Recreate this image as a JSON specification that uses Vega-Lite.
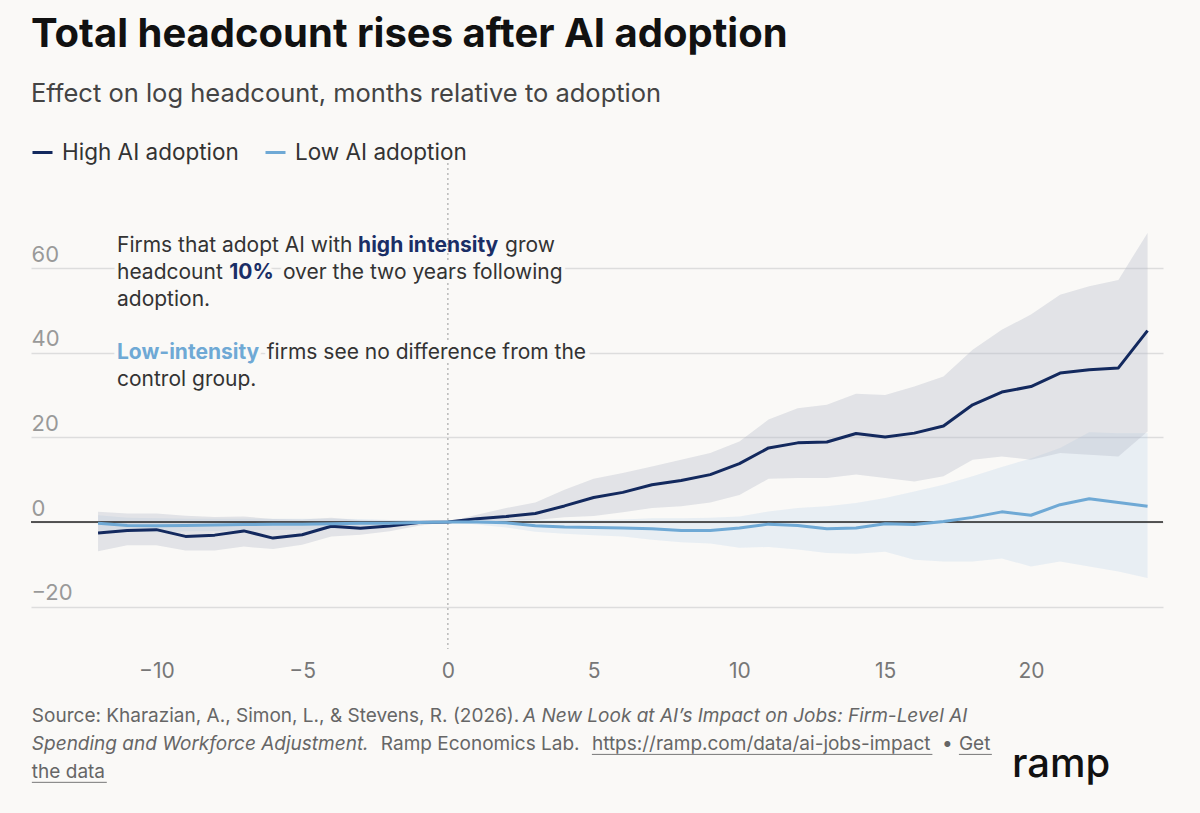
{
  "$schema": "https://vega.github.io/schema/vega-lite/v6.json",
  "width": 1132,
  "height": 491,
  "autosize": {"type": "none"},
  "padding": {"left": 31, "top": 158, "right": 37, "bottom": 164},
  "background": "#FAF9F7",
  "title": {
    "text": "Total headcount rises after AI adoption",
    "subtitle": "Effect on log headcount, months relative to adoption",
    "anchor": "start",
    "frame": "group",
    "font": "Inter",
    "fontSize": 40,
    "fontWeight": 700,
    "color": "#111111",
    "subtitleFont": "Inter",
    "subtitleFontSize": 25.5,
    "subtitleColor": "#444444",
    "subtitlePadding": 27,
    "offset": 34
  },
  "config": {
    "view": {"stroke": null},
    "font": "Inter",
    "axisX": {"domain": false, "ticks": false, "tickSize": 0, "grid": false, "labelFontSize": 21, "labelColor": "#777777", "labelPadding": 11, "labelFont": "Inter"},
    "axisY": {"domain": false, "ticks": false, "tickSize": 0, "grid": true, "gridColor": "#DDDDDD", "gridWidth": 1.5, "labelAlign": "left", "labelPadding": 0, "labelBaseline": "alphabetic", "labelOffset": -7, "labelFontSize": 22, "labelColor": "#999999", "labelFont": "Inter"},
    "legend": {"orient": "none", "legendX": 0, "legendY": -17, "direction": "horizontal", "title": null, "symbolType": "stroke", "symbolSize": 400, "symbolStrokeWidth": 3, "labelFontSize": 22.5, "labelLimit": 400, "labelColor": "#333333", "labelFont": "Inter", "columnPadding": 20, "labelOffset": 8, "padding": 0}
  },
  "datasets": {
    "est": [
      {"month": -12, "series": "High AI adoption", "est": -2.6, "lo": -6.9, "hi": 2.4},
      {"month": -11, "series": "High AI adoption", "est": -2.0, "lo": -5.5, "hi": 2.0},
      {"month": -10, "series": "High AI adoption", "est": -1.8, "lo": -5.5, "hi": 2.0},
      {"month": -9, "series": "High AI adoption", "est": -3.4, "lo": -6.7, "hi": 1.5},
      {"month": -8, "series": "High AI adoption", "est": -3.1, "lo": -6.7, "hi": 1.2},
      {"month": -7, "series": "High AI adoption", "est": -2.1, "lo": -5.8, "hi": 1.3},
      {"month": -6, "series": "High AI adoption", "est": -3.8, "lo": -6.4, "hi": 0.7},
      {"month": -5, "series": "High AI adoption", "est": -3.0, "lo": -5.4, "hi": 0.6},
      {"month": -4, "series": "High AI adoption", "est": -1.0, "lo": -3.4, "hi": 1.0},
      {"month": -3, "series": "High AI adoption", "est": -1.5, "lo": -3.0, "hi": 0.4},
      {"month": -2, "series": "High AI adoption", "est": -0.95, "lo": -2.2, "hi": 0.3},
      {"month": -1, "series": "High AI adoption", "est": -0.1, "lo": -0.9, "hi": 0.5},
      {"month": 0, "series": "High AI adoption", "est": 0, "lo": 0, "hi": 0},
      {"month": 1, "series": "High AI adoption", "est": 0.8, "lo": 0.0, "hi": 1.7},
      {"month": 2, "series": "High AI adoption", "est": 1.3, "lo": 0.3, "hi": 3.3},
      {"month": 3, "series": "High AI adoption", "est": 2.0, "lo": 0.5, "hi": 4.6},
      {"month": 4, "series": "High AI adoption", "est": 3.8, "lo": 1.1, "hi": 7.6},
      {"month": 5, "series": "High AI adoption", "est": 5.8, "lo": 1.4, "hi": 10.2},
      {"month": 6, "series": "High AI adoption", "est": 7.0, "lo": 2.3, "hi": 11.6},
      {"month": 7, "series": "High AI adoption", "est": 8.8, "lo": 3.3, "hi": 13.1},
      {"month": 8, "series": "High AI adoption", "est": 9.8, "lo": 3.7, "hi": 14.7},
      {"month": 9, "series": "High AI adoption", "est": 11.2, "lo": 4.6, "hi": 16.3},
      {"month": 10, "series": "High AI adoption", "est": 13.8, "lo": 6.4, "hi": 19.0},
      {"month": 11, "series": "High AI adoption", "est": 17.5, "lo": 10.2, "hi": 24.2},
      {"month": 12, "series": "High AI adoption", "est": 18.7, "lo": 10.4, "hi": 26.9},
      {"month": 13, "series": "High AI adoption", "est": 18.9, "lo": 10.4, "hi": 27.7},
      {"month": 14, "series": "High AI adoption", "est": 20.9, "lo": 11.2, "hi": 30.3},
      {"month": 15, "series": "High AI adoption", "est": 20.1, "lo": 10.4, "hi": 30.0},
      {"month": 16, "series": "High AI adoption", "est": 21.0, "lo": 9.6, "hi": 32.0},
      {"month": 17, "series": "High AI adoption", "est": 22.7, "lo": 10.8, "hi": 34.4},
      {"month": 18, "series": "High AI adoption", "est": 27.7, "lo": 14.7, "hi": 40.7},
      {"month": 19, "series": "High AI adoption", "est": 30.7, "lo": 15.5, "hi": 45.4},
      {"month": 20, "series": "High AI adoption", "est": 32.0, "lo": 14.7, "hi": 49.0},
      {"month": 21, "series": "High AI adoption", "est": 35.2, "lo": 16.3, "hi": 53.7},
      {"month": 22, "series": "High AI adoption", "est": 36.0, "lo": 15.9, "hi": 55.7},
      {"month": 23, "series": "High AI adoption", "est": 36.4, "lo": 15.5, "hi": 57.2},
      {"month": 24, "series": "High AI adoption", "est": 45.2, "lo": 21.4, "hi": 68.3},
      {"month": -12, "series": "Low AI adoption", "est": -0.3, "lo": -2.0, "hi": 1.6},
      {"month": -11, "series": "Low AI adoption", "est": -0.8, "lo": -2.3, "hi": 1.0},
      {"month": -10, "series": "Low AI adoption", "est": -0.9, "lo": -2.4, "hi": 0.9},
      {"month": -9, "series": "Low AI adoption", "est": -0.8, "lo": -2.2, "hi": 0.8},
      {"month": -8, "series": "Low AI adoption", "est": -0.7, "lo": -2.1, "hi": 0.8},
      {"month": -7, "series": "Low AI adoption", "est": -0.6, "lo": -2.0, "hi": 0.8},
      {"month": -6, "series": "Low AI adoption", "est": -0.5, "lo": -1.9, "hi": 0.8},
      {"month": -5, "series": "Low AI adoption", "est": -0.5, "lo": -1.8, "hi": 0.8},
      {"month": -4, "series": "Low AI adoption", "est": -0.4, "lo": -1.6, "hi": 0.8},
      {"month": -3, "series": "Low AI adoption", "est": -0.3, "lo": -1.4, "hi": 0.7},
      {"month": -2, "series": "Low AI adoption", "est": -0.3, "lo": -1.1, "hi": 0.5},
      {"month": -1, "series": "Low AI adoption", "est": -0.1, "lo": -0.6, "hi": 0.4},
      {"month": 0, "series": "Low AI adoption", "est": 0, "lo": 0, "hi": 0},
      {"month": 1, "series": "Low AI adoption", "est": 0.0, "lo": -0.6, "hi": 0.6},
      {"month": 2, "series": "Low AI adoption", "est": -0.2, "lo": -1.3, "hi": 0.8},
      {"month": 3, "series": "Low AI adoption", "est": -0.9, "lo": -2.3, "hi": 0.6},
      {"month": 4, "series": "Low AI adoption", "est": -1.2, "lo": -2.8, "hi": 0.5},
      {"month": 5, "series": "Low AI adoption", "est": -1.3, "lo": -3.1, "hi": 0.5},
      {"month": 6, "series": "Low AI adoption", "est": -1.4, "lo": -3.4, "hi": 0.6},
      {"month": 7, "series": "Low AI adoption", "est": -1.6, "lo": -4.2, "hi": 0.9},
      {"month": 8, "series": "Low AI adoption", "est": -2.0, "lo": -4.8, "hi": 0.9},
      {"month": 9, "series": "Low AI adoption", "est": -2.0, "lo": -5.1, "hi": 1.0},
      {"month": 10, "series": "Low AI adoption", "est": -1.4, "lo": -6.1, "hi": 1.3},
      {"month": 11, "series": "Low AI adoption", "est": -0.5, "lo": -5.9, "hi": 2.5},
      {"month": 12, "series": "Low AI adoption", "est": -0.8, "lo": -6.5, "hi": 3.3},
      {"month": 13, "series": "Low AI adoption", "est": -1.6, "lo": -7.3, "hi": 3.7},
      {"month": 14, "series": "Low AI adoption", "est": -1.4, "lo": -7.5, "hi": 4.5},
      {"month": 15, "series": "Low AI adoption", "est": -0.4, "lo": -7.0, "hi": 5.7},
      {"month": 16, "series": "Low AI adoption", "est": -0.6, "lo": -8.9, "hi": 7.2},
      {"month": 17, "series": "Low AI adoption", "est": 0.1, "lo": -9.3, "hi": 8.8},
      {"month": 18, "series": "Low AI adoption", "est": 1.1, "lo": -9.3, "hi": 10.8},
      {"month": 19, "series": "Low AI adoption", "est": 2.4, "lo": -8.6, "hi": 13.0},
      {"month": 20, "series": "Low AI adoption", "est": 1.6, "lo": -10.5, "hi": 15.0},
      {"month": 21, "series": "Low AI adoption", "est": 4.1, "lo": -9.3, "hi": 17.5},
      {"month": 22, "series": "Low AI adoption", "est": 5.5, "lo": -10.5, "hi": 21.2},
      {"month": 23, "series": "Low AI adoption", "est": 4.6, "lo": -11.7, "hi": 21.0},
      {"month": 24, "series": "Low AI adoption", "est": 3.7, "lo": -13.2, "hi": 21.0}
    ]
  },
  "layer": [
    {
      "data": {"name": "est"},
      "transform": [{"filter": "datum.series === 'Low AI adoption'"}],
      "mark": {"type": "area", "color": "#A9C8E8", "opacity": 0.22},
      "encoding": {
        "x": {"field": "month", "type": "quantitative", "title": null, "scale": {"domain": [-14.3, 24.53], "nice": false, "zero": false}, "axis": {"values": [-10, -5, 0, 5, 10, 15, 20]}},
        "y": {"field": "lo", "type": "quantitative", "title": null, "scale": {"domain": [-30, 86], "nice": false, "zero": false}, "axis": {"values": [-20, 0, 20, 40, 60]}},
        "y2": {"field": "hi"}
      }
    },
    {
      "data": {"name": "est"},
      "transform": [{"filter": "datum.series === 'High AI adoption'"}],
      "mark": {"type": "area", "color": "#B5B9C8", "opacity": 0.35},
      "encoding": {
        "x": {"field": "month", "type": "quantitative", "title": null},
        "y": {"field": "lo", "type": "quantitative", "title": null},
        "y2": {"field": "hi"}
      }
    },
    {
      "data": {"values": [{}]},
      "mark": {"type": "rule", "color": "#222222", "strokeWidth": 1.5},
      "encoding": {"y": {"datum": 0}}
    },
    {
      "data": {"values": [{}]},
      "mark": {"type": "rule", "color": "#AAAAAA", "strokeWidth": 1.2, "strokeDash": [2, 3]},
      "encoding": {"x": {"datum": 0}}
    },
    {
      "data": {"name": "est"},
      "mark": {"type": "line", "strokeWidth": 3, "strokeJoin": "round"},
      "encoding": {
        "x": {"field": "month", "type": "quantitative", "title": null},
        "y": {"field": "est", "type": "quantitative", "title": null},
        "color": {"field": "series", "type": "nominal", "scale": {"domain": ["High AI adoption", "Low AI adoption"], "range": ["#13295E", "#6FA9D5"]}, "legend": {}}
      }
    },
    {"data": {"values": [{}]}, "mark": {"type": "text", "align": "left", "baseline": "middle", "fontSize": 21, "font": "Inter", "color": "#FAF9F7", "stroke": "#FAF9F7", "strokeWidth": 8}, "encoding": {"x": {"datum": -11.35}, "y": {"datum": 58.76}, "text": {"value": "headcount"}}},
    {"data": {"values": [{}]}, "mark": {"type": "text", "align": "left", "baseline": "middle", "fontSize": 21, "font": "Inter", "fontWeight": 700, "color": "#FAF9F7", "stroke": "#FAF9F7", "strokeWidth": 8}, "encoding": {"x": {"datum": -7.5}, "y": {"datum": 58.76}, "text": {"value": "10%"}}},
    {"data": {"values": [{}]}, "mark": {"type": "text", "align": "left", "baseline": "middle", "fontSize": 21, "font": "Inter", "color": "#FAF9F7", "stroke": "#FAF9F7", "strokeWidth": 8}, "encoding": {"x": {"datum": -5.66}, "y": {"datum": 58.76}, "text": {"value": "over the two years following"}}},
    {"data": {"values": [{}]}, "mark": {"type": "text", "align": "left", "baseline": "middle", "fontSize": 21, "font": "Inter", "fontWeight": 700, "color": "#FAF9F7", "stroke": "#FAF9F7", "strokeWidth": 8}, "encoding": {"x": {"datum": -11.35}, "y": {"datum": 39.86}, "text": {"value": "Low-intensity"}}},
    {"data": {"values": [{}]}, "mark": {"type": "text", "align": "left", "baseline": "middle", "fontSize": 21, "font": "Inter", "color": "#FAF9F7", "stroke": "#FAF9F7", "strokeWidth": 8}, "encoding": {"x": {"datum": -6.21}, "y": {"datum": 39.86}, "text": {"value": "firms see no difference from the"}}},
    {"data": {"values": [{}]}, "mark": {"type": "text", "align": "left", "baseline": "middle", "fontSize": 21, "font": "Inter", "color": "#333333"}, "encoding": {"x": {"datum": -11.35}, "y": {"datum": 65.2}, "text": {"value": "Firms that adopt AI with"}}},
    {"data": {"values": [{}]}, "mark": {"type": "text", "align": "left", "baseline": "middle", "fontSize": 21, "font": "Inter", "fontWeight": 700, "color": "#1A2E66"}, "encoding": {"x": {"datum": -3.08}, "y": {"datum": 65.2}, "text": {"value": "high intensity"}}},
    {"data": {"values": [{}]}, "mark": {"type": "text", "align": "left", "baseline": "middle", "fontSize": 21, "font": "Inter", "color": "#333333"}, "encoding": {"x": {"datum": 1.96}, "y": {"datum": 65.2}, "text": {"value": "grow"}}},
    {"data": {"values": [{}]}, "mark": {"type": "text", "align": "left", "baseline": "middle", "fontSize": 21, "font": "Inter", "color": "#333333"}, "encoding": {"x": {"datum": -11.35}, "y": {"datum": 58.76}, "text": {"value": "headcount"}}},
    {"data": {"values": [{}]}, "mark": {"type": "text", "align": "left", "baseline": "middle", "fontSize": 21, "font": "Inter", "fontWeight": 700, "color": "#1A2E66"}, "encoding": {"x": {"datum": -7.5}, "y": {"datum": 58.76}, "text": {"value": "10%"}}},
    {"data": {"values": [{}]}, "mark": {"type": "text", "align": "left", "baseline": "middle", "fontSize": 21, "font": "Inter", "color": "#333333"}, "encoding": {"x": {"datum": -5.66}, "y": {"datum": 58.76}, "text": {"value": "over the two years following"}}},
    {"data": {"values": [{}]}, "mark": {"type": "text", "align": "left", "baseline": "middle", "fontSize": 21, "font": "Inter", "color": "#333333"}, "encoding": {"x": {"datum": -11.35}, "y": {"datum": 52.45}, "text": {"value": "adoption."}}},
    {"data": {"values": [{}]}, "mark": {"type": "text", "align": "left", "baseline": "middle", "fontSize": 21, "font": "Inter", "fontWeight": 700, "color": "#6FA9D5"}, "encoding": {"x": {"datum": -11.35}, "y": {"datum": 39.86}, "text": {"value": "Low-intensity"}}},
    {"data": {"values": [{}]}, "mark": {"type": "text", "align": "left", "baseline": "middle", "fontSize": 21, "font": "Inter", "color": "#333333"}, "encoding": {"x": {"datum": -6.21}, "y": {"datum": 39.86}, "text": {"value": "firms see no difference from the"}}},
    {"data": {"values": [{}]}, "mark": {"type": "text", "align": "left", "baseline": "middle", "fontSize": 21, "font": "Inter", "color": "#333333"}, "encoding": {"x": {"datum": -11.35}, "y": {"datum": 33.55}, "text": {"value": "control group."}}},
    {"data": {"values": [{}]}, "mark": {"type": "text", "align": "left", "baseline": "middle", "fontSize": 19, "font": "Inter", "color": "#666666"}, "encoding": {"x": {"datum": -14.27}, "y": {"datum": -45.89}, "text": {"value": "Source: Kharazian, A., Simon, L., & Stevens, R. (2026)."}}},
    {"data": {"values": [{}]}, "mark": {"type": "text", "align": "left", "baseline": "middle", "fontSize": 19, "font": "Inter", "fontStyle": "italic", "color": "#666666"}, "encoding": {"x": {"datum": 2.58}, "y": {"datum": -45.89}, "text": {"value": "A New Look at AI’s Impact on Jobs: Firm-Level AI"}}},
    {"data": {"values": [{}]}, "mark": {"type": "text", "align": "left", "baseline": "middle", "fontSize": 19, "font": "Inter", "fontStyle": "italic", "color": "#666666"}, "encoding": {"x": {"datum": -14.27}, "y": {"datum": -52.51}, "text": {"value": "Spending and Workforce Adjustment."}}},
    {"data": {"values": [{}]}, "mark": {"type": "text", "align": "left", "baseline": "middle", "fontSize": 19, "font": "Inter", "color": "#666666"}, "encoding": {"x": {"datum": -2.3}, "y": {"datum": -52.51}, "text": {"value": "Ramp Economics Lab."}}},
    {"data": {"values": [{}]}, "mark": {"type": "text", "align": "left", "baseline": "middle", "fontSize": 19, "font": "Inter", "color": "#666666"}, "encoding": {"x": {"datum": 4.94}, "y": {"datum": -52.51}, "text": {"value": "https://ramp.com/data/ai-jobs-impact"}}},
    {"data": {"values": [{}]}, "mark": {"type": "text", "align": "left", "baseline": "middle", "fontSize": 19, "font": "Inter", "color": "#666666"}, "encoding": {"x": {"datum": 16.95}, "y": {"datum": -52.51}, "text": {"value": "•"}}},
    {"data": {"values": [{}]}, "mark": {"type": "text", "align": "left", "baseline": "middle", "fontSize": 19, "font": "Inter", "color": "#666666"}, "encoding": {"x": {"datum": 17.53}, "y": {"datum": -52.51}, "text": {"value": "Get"}}},
    {"data": {"values": [{}]}, "mark": {"type": "text", "align": "left", "baseline": "middle", "fontSize": 19, "font": "Inter", "color": "#666666"}, "encoding": {"x": {"datum": -14.27}, "y": {"datum": -59.12}, "text": {"value": "the data"}}},
    {"data": {"values": [{}]}, "mark": {"type": "rule", "color": "#777777", "strokeWidth": 1}, "encoding": {"x": {"datum": 4.94}, "x2": {"datum": 16.62}, "y": {"datum": -54.9}}},
    {"data": {"values": [{}]}, "mark": {"type": "rule", "color": "#777777", "strokeWidth": 1}, "encoding": {"x": {"datum": 17.53}, "x2": {"datum": 18.66}, "y": {"datum": -54.9}}},
    {"data": {"values": [{}]}, "mark": {"type": "rule", "color": "#777777", "strokeWidth": 1}, "encoding": {"x": {"datum": -14.27}, "x2": {"datum": -11.7}, "y": {"datum": -61.5}}},
    {"data": {"values": [{}]}, "mark": {"type": "text", "align": "left", "baseline": "middle", "fontSize": 40, "font": "Inter", "fontWeight": 500, "color": "#111111"}, "encoding": {"x": {"datum": 19.35}, "y": {"datum": -57.4}, "text": {"value": "ramp"}}}
  ]
}
